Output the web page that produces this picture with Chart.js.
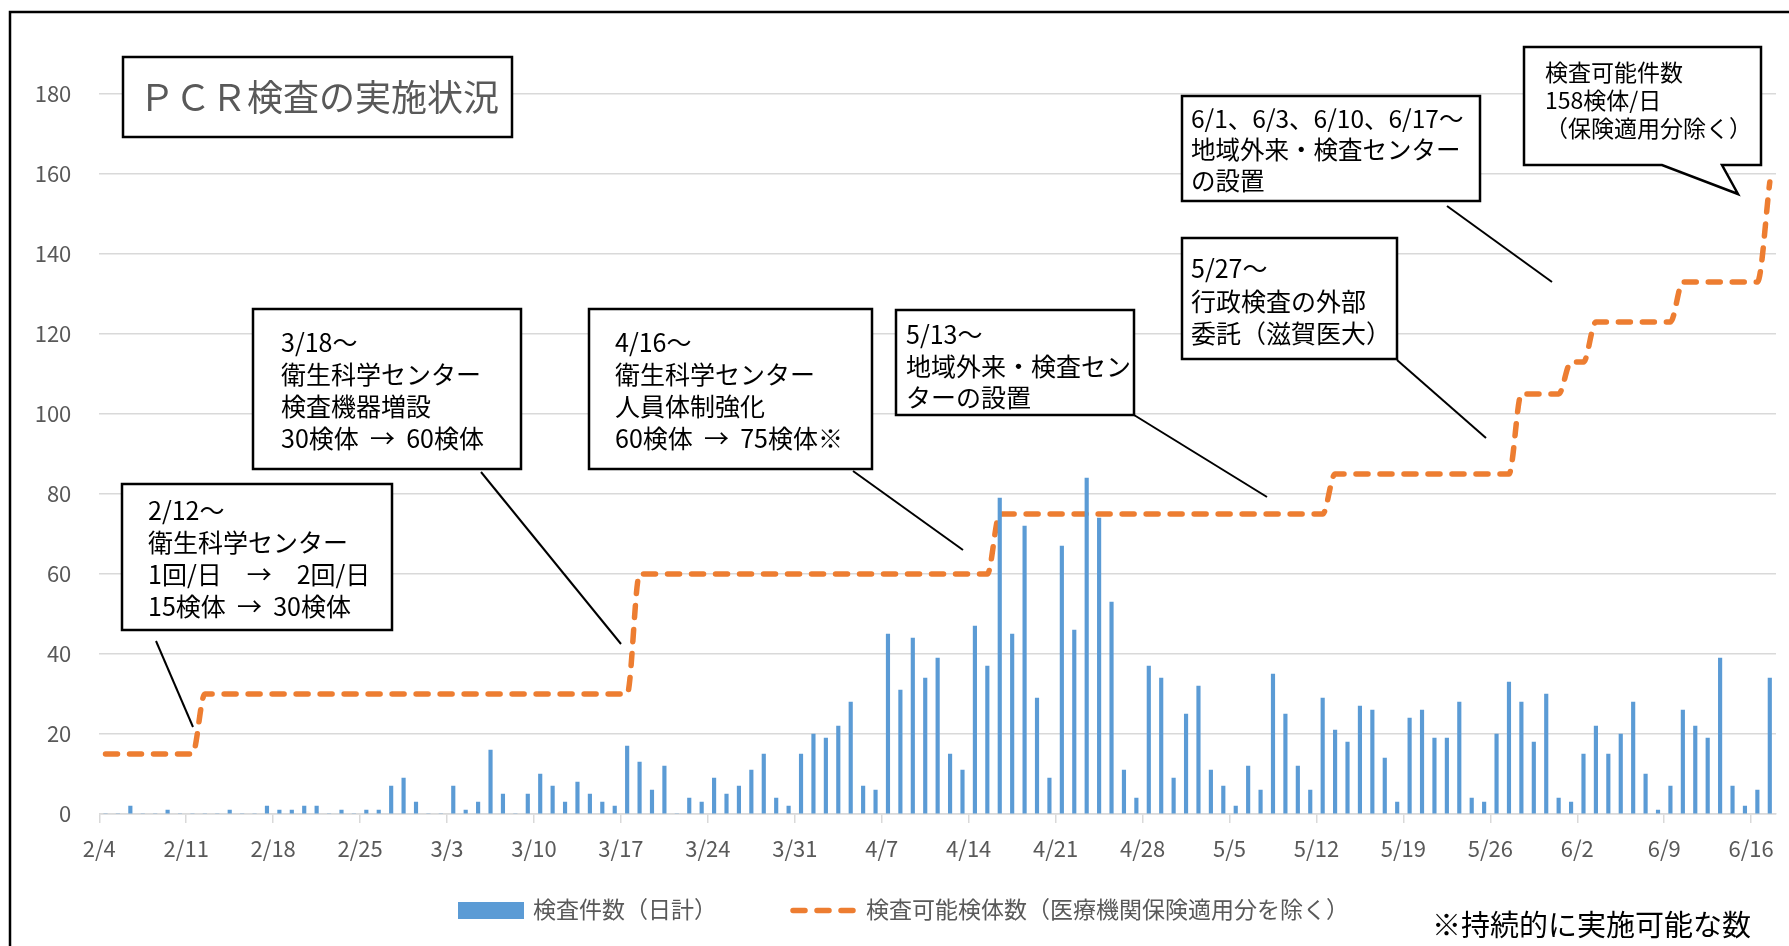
<!DOCTYPE html>
<html>
<head>
<meta charset="utf-8">
<script src="https://cdn.jsdelivr.net/npm/chart.js@4.4.1/dist/chart.umd.min.js"></script>
<style>
html,body{margin:0;padding:0;background:#fff;overflow:hidden}
#wrap{width:1789px;height:946px;position:relative}
</style>
</head>
<body>
<div id="wrap"><canvas id="c" width="1789" height="946"></canvas></div>
<script>
// ---- categories (one per day) ----
const categories = [
 '2/4','2/5','2/6','2/7','2/8','2/9','2/10','2/11','2/12','2/13','2/14','2/15','2/16','2/17','2/18','2/19','2/20','2/21','2/22','2/23','2/24','2/25','2/26','2/27','2/28','2/29',
 '3/1','3/2','3/3','3/4','3/5','3/6','3/7','3/8','3/9','3/10','3/11','3/12','3/13','3/14','3/15','3/16','3/17','3/18','3/19','3/20','3/21','3/22','3/23','3/24','3/25','3/26','3/27','3/28','3/29','3/30','3/31',
 '4/1','4/2','4/3','4/4','4/5','4/6','4/7','4/8','4/9','4/10','4/11','4/12','4/13','4/14','4/15','4/16','4/17','4/18','4/19','4/20','4/21','4/22','4/23','4/24','4/25','4/26','4/27','4/28','4/29','4/30',
 '5/1','5/2','5/3','5/4','5/5','5/6','5/7','5/8','5/9','5/10','5/11','5/12','5/13','5/14','5/15','5/16','5/17','5/18','5/19','5/20','5/21','5/22','5/23','5/24','5/25','5/26','5/27','5/28','5/29','5/30','5/31',
 '6/1','6/2','6/3','6/4','6/5','6/6','6/7','6/8','6/9','6/10','6/11','6/12','6/13','6/14','6/15','6/16','6/17'
];
// ---- x tick labels ----
const tickLabels = ['2/4','2/11','2/18','2/25','3/3','3/10','3/17','3/24','3/31','4/7','4/14','4/21','4/28','5/5','5/12','5/19','5/26','6/2','6/9','6/16'];
// ---- y ticks ----
const yMin = 0, yMax = 180, yStep = 20;
// ---- series: daily test count ----
const testCounts = [
 0,0,2,0,0,1,0,0,0,0,1,0,0,2,1,1,2,2,0,1,0,1,1,7,9,3,
 0,0,7,1,3,16,5,0,5,10,7,3,8,5,3,2,17,13,6,12,0,4,3,9,5,7,11,15,4,2,15,
 20,19,22,28,7,6,45,31,44,34,39,15,11,47,37,79,45,72,29,9,67,46,84,74,53,11,4,37,34,9,
 25,32,11,7,2,12,6,35,25,12,6,29,21,18,27,26,14,3,24,26,19,19,28,4,3,20,33,28,18,30,4,
 3,15,22,15,20,28,10,1,7,26,22,19,39,7,2,6,34
];
// ---- series: testing capacity ----
const capacity = [
 15,15,15,15,15,15,15,15,30,30,30,30,30,30,30,30,30,30,30,30,30,30,30,30,30,30,
 30,30,30,30,30,30,30,30,30,30,30,30,30,30,30,30,30,60,60,60,60,60,60,60,60,60,60,60,60,60,60,
 60,60,60,60,60,60,60,60,60,60,60,60,60,60,60,75,75,75,75,75,75,75,75,75,75,75,75,75,75,75,
 75,75,75,75,75,75,75,75,75,75,75,75,85,85,85,85,85,85,85,85,85,85,85,85,85,85,85,105,105,105,105,
 113,113,123,123,123,123,123,123,123,133,133,133,133,133,133,133,158
];
const seriesNames = ['検査件数（日計）', '検査可能検体数（医療機関保険適用分を除く）'];

const titleText = 'ＰＣＲ検査の実施状況';
const footNote = '※持続的に実施可能な数';
const noteTexts = [
 ['2/12〜', '衛生科学センター', '1回/日　→　2回/日', '15検体  →  30検体'],
 ['3/18〜', '衛生科学センター', '検査機器増設', '30検体  →  60検体'],
 ['4/16〜', '衛生科学センター', '人員体制強化', '60検体  →  75検体※'],
 ['5/13〜', '地域外来・検査セン', 'ターの設置'],
 ['5/27〜', '行政検査の外部', '委託（滋賀医大）'],
 ['6/1、6/3、6/10、6/17〜', '地域外来・検査センター', 'の設置'],
 ['検査可能件数', '158検体/日', '（保険適用分除く）']
];

const BLUE = '#5b9bd5', ORANGE = '#ed7d31', GRID = '#d9d9d9', TXT = '#595959';
const FAM = "'Noto Sans CJK JP','Noto Sans',sans-serif";

// annotation layout (pixel styling)
const noteLayout = [
 {box:[122,484,392,630], tx:148, ys:[510,542,574,606], fs:25, line:[156,641,193,727]},
 {box:[253,309,521,469], tx:281, ys:[342,374,406,438], fs:25, line:[481,472,621,644]},
 {box:[589,309,872,469], tx:615, ys:[342,374,406,438], fs:25, line:[853,471,963,550]},
 {box:[896,310,1134,415], tx:906, ys:[334,366,397], fs:25, line:[1134,415,1267,497]},
 {box:[1182,238,1397,359], tx:1191, ys:[268,301,333], fs:25, line:[1397,360,1486,438]},
 {box:[1182,96,1480,201], tx:1191, ys:[119,150,181], fs:24.5, line:[1447,206,1552,282]},
 {box:[1524,47,1761,165], tx:1545, ys:[72,100,128], fs:23, tail:[1662,1738,194,1722]}
];

const annotPlugin = {
  id: 'annot',
  afterDraw(chart) {
    const ctx = chart.ctx;
    const ds = chart.data.datasets;
    ctx.save();
    // outer frame
    ctx.strokeStyle = '#000';
    ctx.lineWidth = 2.5;
    ctx.strokeRect(10, 12, 1800, 960);
    // title box
    ctx.fillStyle = '#fff';
    ctx.fillRect(123, 57, 389, 80);
    ctx.strokeRect(123, 57, 389, 80);
    ctx.fillStyle = TXT;
    ctx.font = '36px ' + FAM;
    ctx.textBaseline = 'middle';
    ctx.textAlign = 'left';
    ctx.fillText(titleText, 139, 97);
    // notes
    noteLayout.forEach((n, k) => {
      const [x1, y1, x2, y2] = n.box;
      if (n.line) {
        ctx.lineWidth = 2;
        ctx.strokeStyle = '#000';
        ctx.beginPath();
        ctx.moveTo(n.line[0], n.line[1]);
        ctx.lineTo(n.line[2], n.line[3]);
        ctx.stroke();
      }
      ctx.lineWidth = 2.5;
      ctx.strokeStyle = '#000';
      ctx.fillStyle = '#fff';
      ctx.beginPath();
      if (n.tail) {
        const [ta, tipx, tipy, tb] = n.tail;
        ctx.moveTo(x1, y1); ctx.lineTo(x2, y1); ctx.lineTo(x2, y2);
        ctx.lineTo(tb, y2); ctx.lineTo(tipx, tipy); ctx.lineTo(ta, y2);
        ctx.lineTo(x1, y2); ctx.closePath();
      } else {
        ctx.rect(x1, y1, x2 - x1, y2 - y1);
      }
      ctx.fill();
      ctx.stroke();
      ctx.fillStyle = '#000';
      ctx.font = n.fs + 'px ' + FAM;
      noteTexts[k].forEach((t, j) => ctx.fillText(t, n.tx, n.ys[j]));
    });
    // legend (drawn from dataset styles)
    ctx.font = '23px ' + FAM;
    ctx.fillStyle = ds[0].backgroundColor;
    ctx.fillRect(458, 902, 66, 17);
    ctx.fillStyle = TXT;
    ctx.fillText(ds[0].label, 533, 909);
    ctx.strokeStyle = ds[1].borderColor;
    ctx.lineWidth = ds[1].borderWidth;
    ctx.lineCap = 'round';
    ctx.setLineDash(ds[1].borderDash);
    ctx.beginPath();
    ctx.moveTo(793, 910.5);
    ctx.lineTo(859, 910.5);
    ctx.stroke();
    ctx.setLineDash([]);
    ctx.fillStyle = TXT;
    ctx.fillText(ds[1].label, 866, 909);
    // foot note
    ctx.fillStyle = '#000';
    ctx.font = '29px ' + FAM;
    ctx.fillText(footNote, 1432, 925);
    ctx.restore();
  }
};

const ctx = document.getElementById('c').getContext('2d');
new Chart(ctx, {
  data: {
    datasets: [
      {
        type: 'bar',
        label: seriesNames[0],
        data: testCounts.map((v, i) => ({x: i + 0.5, y: v})),
        backgroundColor: BLUE,
        barThickness: 3.5,
        order: 0
      },
      {
        type: 'line',
        label: seriesNames[1],
        data: capacity.map((v, i) => ({x: i + 0.5, y: v})),
        borderColor: ORANGE,
        backgroundColor: ORANGE,
        borderWidth: 5.5,
        borderDash: [12, 12],
        borderCapStyle: 'round',
        borderJoinStyle: 'round',
        pointRadius: 0,
        tension: 0.4,
        cubicInterpolationMode: 'monotone',
        fill: false,
        order: 1
      }
    ]
  },
  options: {
    responsive: false,
    animation: false,
    devicePixelRatio: 1,
    layout: {padding: {left: 0, right: 13, top: 94, bottom: 72}},
    scales: {
      x: {
        type: 'linear',
        offset: false,
        min: 0,
        max: categories.length,
        afterBuildTicks: (s) => { s.ticks = tickLabels.map(l => ({value: categories.indexOf(l)})); },
        afterFit: (s) => { s.height = 60; },
        ticks: {
          autoSkip: false,
          maxRotation: 0,
          padding: 12,
          color: TXT,
          font: {size: 22, family: FAM},
          callback: (v) => categories[v]
        },
        grid: {offset: false, drawOnChartArea: false, drawTicks: true, tickLength: 9, color: GRID, lineWidth: 1.5},
        border: {display: true, color: GRID, width: 1.5}
      },
      y: {
        min: yMin,
        max: yMax,
        afterFit: (s) => { s.width = 99.3; },
        ticks: {stepSize: yStep, padding: 28, color: TXT, font: {size: 22, family: FAM}},
        grid: {color: GRID, lineWidth: 1.5, drawTicks: false},
        border: {display: false}
      }
    },
    plugins: {
      tooltip: {enabled: false},
      legend: {display: false}
    }
  },
  plugins: [annotPlugin]
});
</script>
</body>
</html>
